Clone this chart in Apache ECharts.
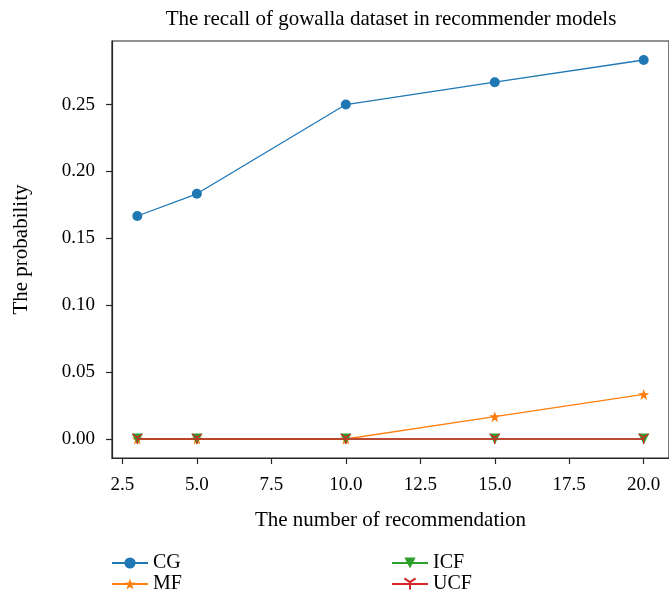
<!DOCTYPE html>
<html>
<head>
<meta charset="utf-8">
<script src="https://cdn.jsdelivr.net/npm/echarts@6/dist/echarts.min.js"></script>
<style>
  html, body { margin: 0; padding: 0; background: #fff; }
  #chart { width: 669px; height: 599px; }
</style>
</head>
<body>
<div id="chart"></div>
<script>
// Recall of each recommender model on the gowalla dataset
const recommendCounts = [3, 5, 10, 15, 20];
const cgRecall  = [0.1667, 0.1833, 0.25, 0.2667, 0.2833];
const mfRecall  = [0, 0, 0, 0.0167, 0.0333];
const icfRecall = [0, 0, 0, 0, 0];
const ucfRecall = [0, 0, 0, 0, 0];

const xTickValues = [2.5, 5, 7.5, 10, 12.5, 15, 17.5, 20];
const yTickValues = [0, 0.05, 0.10, 0.15, 0.20, 0.25];

const FONT = '"Liberation Serif", "DejaVu Serif", serif';
const AXIS_COLOR = '#262626';

function pairs(values) {
  return recommendCounts.map((x, i) => [x, values[i]]);
}

// tri_down marker: three spokes from the centre
const triDown = 'path://M0,0 L0,10 M0,0 L-8.66,-5 M0,0 L8.66,-5';
// five-pointed star marker
const star = 'path://M0,-10 L2.35,-3.24 L9.51,-3.09 L3.8,1.24 L5.88,8.09 L0,4 L-5.88,8.09 L-3.8,1.24 L-9.51,-3.09 L-2.35,-3.24 Z';

const legendText = { fontFamily: FONT, fontSize: 20, color: '#000' };

const chart = echarts.init(document.getElementById('chart'), null, { renderer: 'canvas' });

chart.setOption({
  animation: false,
  backgroundColor: '#fff',
  title: {
    text: 'The recall of gowalla dataset in recommender models',
    left: 391, textAlign: 'center', top: 9, padding: 0,
    textStyle: { fontFamily: FONT, fontSize: 21, fontWeight: 'normal', color: '#000' }
  },
  grid: {
    left: 112, right: 0, top: 41, bottom: 141,
    show: true, borderColor: AXIS_COLOR, borderWidth: 1.2, backgroundColor: 'transparent'
  },
  legend: [
    {
      left: 111, top: 553, orient: 'vertical', itemGap: 1, padding: 0,
      itemWidth: 36, itemHeight: 14,
      data: ['CG', 'MF'],
      textStyle: legendText
    },
    {
      left: 391, top: 553, orient: 'vertical', itemGap: 1, padding: 0,
      itemWidth: 36, itemHeight: 14,
      data: ['ICF', 'UCF'],
      textStyle: legendText
    }
  ],
  xAxis: {
    type: 'value', min: 2.15, max: 20.85,
    name: 'The number of recommendation', nameLocation: 'middle', nameGap: 52,
    nameTextStyle: { fontFamily: FONT, fontSize: 21, color: '#000' },
    axisLine: { show: true, onZero: false, lineStyle: { color: AXIS_COLOR, width: 1.2 } },
    axisTick: { show: true, length: 6, customValues: xTickValues, lineStyle: { color: AXIS_COLOR, width: 1.2 } },
    axisLabel: {
      customValues: xTickValues, margin: 18,
      fontFamily: FONT, fontSize: 19, color: '#000',
      formatter: v => v.toFixed(1)
    },
    splitLine: { show: false }
  },
  yAxis: {
    type: 'value', min: -0.0142, max: 0.2975,
    name: 'The probability', nameLocation: 'middle', nameGap: 80,
    nameTextStyle: { fontFamily: FONT, fontSize: 21, color: '#000' },
    axisLine: { show: true, onZero: false, lineStyle: { color: AXIS_COLOR, width: 1.2 } },
    axisTick: { show: true, length: 6, customValues: yTickValues, lineStyle: { color: AXIS_COLOR, width: 1.2 } },
    axisLabel: {
      customValues: yTickValues, margin: 17,
      fontFamily: FONT, fontSize: 19, color: '#000',
      formatter: v => v.toFixed(2)
    },
    splitLine: { show: false }
  },
  series: [
    {
      name: 'CG', type: 'line', data: pairs(cgRecall),
      symbol: 'circle', symbolSize: 10,
      lineStyle: { color: '#1f77b4', width: 1.3 },
      itemStyle: { color: '#1f77b4' }, z: 2
    },
    {
      name: 'MF', type: 'line', data: pairs(mfRecall),
      symbol: star, symbolSize: 11,
      lineStyle: { color: '#ff7f0e', width: 1.3 },
      itemStyle: { color: '#ff7f0e' }, z: 3
    },
    {
      name: 'ICF', type: 'line', data: pairs(icfRecall),
      symbol: 'triangle', symbolRotate: 180, symbolSize: 11,
      lineStyle: { color: '#2ca02c', width: 1.3 },
      itemStyle: { color: '#2ca02c' }, z: 4
    },
    {
      name: 'UCF', type: 'line', data: pairs(ucfRecall),
      symbol: triDown, symbolSize: 10,
      lineStyle: { color: '#d62728', width: 1.3 },
      itemStyle: { color: '#d62728', borderColor: '#d62728', borderWidth: 1.3 }, z: 5
    }
  ]
});
</script>
</body>
</html>
